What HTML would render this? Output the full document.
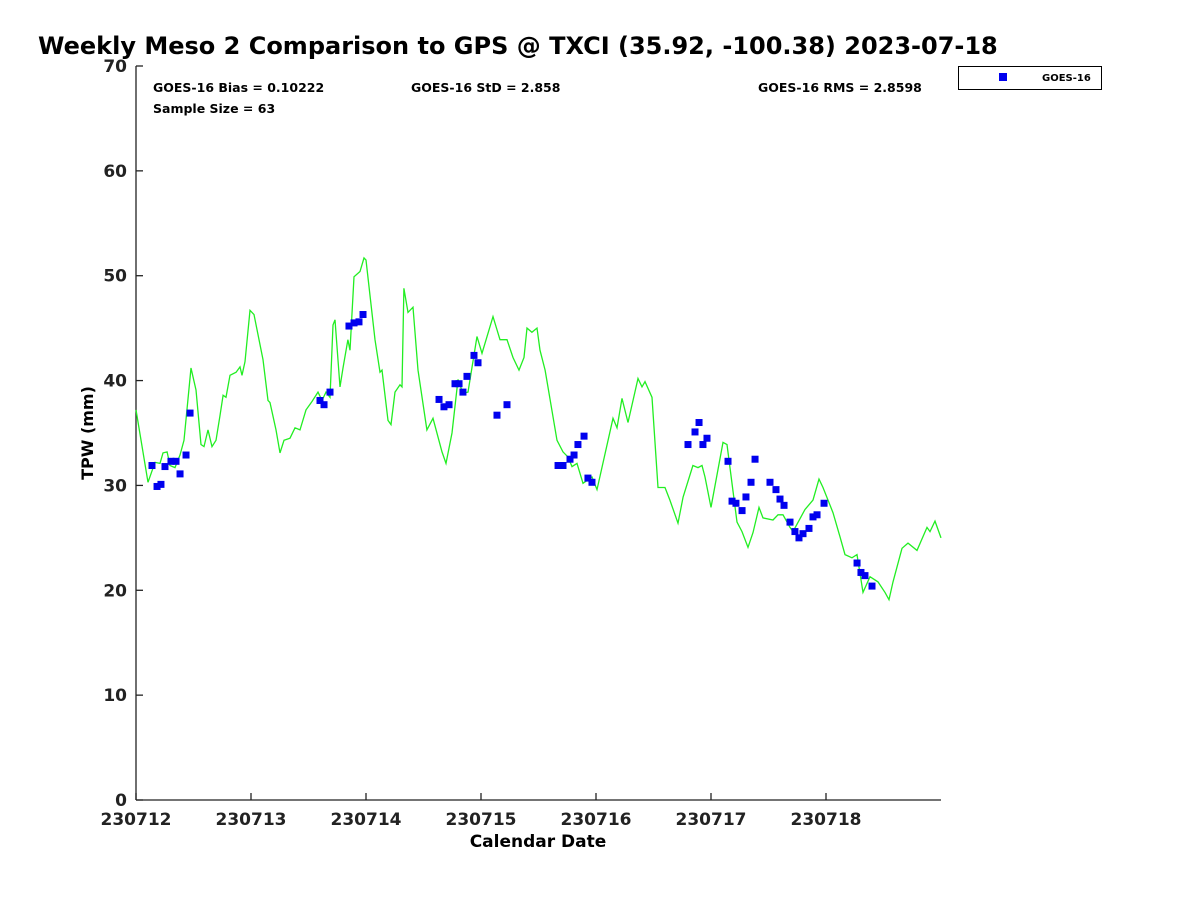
<!DOCTYPE html>
<html><head><meta charset="utf-8"><style>
body{margin:0;background:#fff;}
svg{display:block;font-family:"DejaVu Sans","Liberation Sans",sans-serif;}
</style></head><body>
<svg id="chart" width="1200" height="900" viewBox="0 0 1200 900">
<text x="38" y="54" font-size="24" font-weight="bold">Weekly Meso 2 Comparison to GPS @ TXCI (35.92, -100.38) 2023-07-18</text>
<g font-size="12.5" font-weight="bold">
<text x="153" y="92">GOES-16 Bias = 0.10222</text>
<text x="411" y="92">GOES-16 StD = 2.858</text>
<text x="758" y="92">GOES-16 RMS = 2.8598</text>
<text x="153" y="113">Sample Size = 63</text>
</g>
<g>
<rect x="958.5" y="66.5" width="143" height="23" fill="#fff" stroke="#000" stroke-width="1"/>
<rect x="999" y="73" width="8" height="8" fill="#0000ee"/>
<text x="1042" y="81" font-size="10" font-weight="bold">GOES-16</text>
</g>
<g id="axes"></g>
<g id="marks"></g>
<text x="538" y="847" font-size="17" font-weight="bold" text-anchor="middle">Calendar Date</text>
<text transform="translate(93,433) rotate(-90)" font-size="16" font-weight="bold" text-anchor="middle">TPW (mm)</text>
</svg>
<script>
const xTickLabels=["230712","230713","230714","230715","230716","230717","230718"];
const yTicks=[0,10,20,30,40,50,60,70];
const gpsDays=[0,0.104,0.165,0.209,0.235,0.27,0.296,0.339,0.383,0.417,0.478,0.522,0.565,0.591,0.626,0.661,0.696,0.73,0.757,0.783,0.817,0.87,0.904,0.922,0.948,0.991,1.026,1.104,1.148,1.165,1.217,1.252,1.287,1.339,1.383,1.426,1.478,1.53,1.583,1.617,1.652,1.687,1.713,1.73,1.774,1.8,1.843,1.861,1.896,1.948,1.983,2,2.078,2.122,2.139,2.191,2.217,2.252,2.296,2.313,2.33,2.365,2.409,2.452,2.53,2.583,2.661,2.696,2.748,2.8,2.843,2.887,2.965,3.009,3.104,3.165,3.226,3.278,3.33,3.374,3.4,3.443,3.487,3.513,3.557,3.661,3.713,3.757,3.791,3.835,3.887,3.965,4.009,4.148,4.183,4.226,4.278,4.365,4.4,4.426,4.487,4.539,4.6,4.643,4.713,4.757,4.843,4.887,4.922,4.948,5,5.104,5.139,5.226,5.27,5.322,5.365,5.417,5.452,5.539,5.583,5.626,5.687,5.713,5.817,5.887,5.939,5.974,6.061,6.122,6.165,6.226,6.27,6.322,6.383,6.452,6.513,6.548,6.583,6.661,6.713,6.791,6.878,6.904,6.948,7];
const gpsTpw=[37.2,30.3,32.2,32.1,33.1,33.2,31.9,31.7,32.9,34.3,41.2,39.1,33.9,33.7,35.3,33.7,34.3,36.6,38.6,38.4,40.5,40.8,41.3,40.5,41.8,46.7,46.3,42,38.1,37.9,35.3,33.1,34.3,34.5,35.5,35.3,37.2,38,38.9,38.1,38.9,38.4,45.3,45.8,39.4,41.2,43.9,42.9,49.9,50.4,51.7,51.5,43.9,40.8,41,36.2,35.8,38.9,39.6,39.4,48.8,46.5,47,41,35.3,36.4,33.2,32.1,35,40.1,38.8,38.9,44.2,42.6,46.1,43.9,43.9,42.2,41,42.2,45,44.6,45,42.9,41,34.3,33.2,32.7,31.8,32.1,30.2,30.8,29.6,36.4,35.5,38.3,36,40.2,39.4,39.9,38.4,29.8,29.8,28.6,26.4,28.9,31.9,31.7,31.9,30.8,27.9,34.1,33.9,26.5,25.6,24.1,25.5,27.9,26.9,26.7,27.2,27.2,26,25.6,27.7,28.6,30.6,29.8,27.4,25.1,23.4,23.1,23.4,19.8,21.3,20.8,19.8,19.1,20.8,24,24.5,23.8,26,25.6,26.6,25];
const goesDays=[0.139,0.183,0.217,0.252,0.304,0.348,0.383,0.435,0.47,1.6,1.635,1.687,1.852,1.896,1.939,1.974,2.635,2.678,2.722,2.774,2.809,2.843,2.878,2.939,2.974,3.139,3.226,3.67,3.713,3.774,3.809,3.843,3.896,3.93,3.965,4.8,4.861,4.896,4.93,4.965,5.148,5.183,5.217,5.27,5.304,5.348,5.383,5.513,5.565,5.6,5.635,5.687,5.73,5.765,5.8,5.852,5.887,5.922,5.983,6.27,6.304,6.339,6.4];
const goesTpw=[31.9,29.9,30.1,31.8,32.3,32.3,31.1,32.9,36.9,38.1,37.7,38.9,45.2,45.5,45.6,46.3,38.2,37.5,37.7,39.7,39.7,38.9,40.4,42.4,41.7,36.7,37.7,31.9,31.9,32.5,32.9,33.9,34.7,30.7,30.3,33.9,35.1,36,33.9,34.5,32.3,28.5,28.3,27.6,28.9,30.3,32.5,30.3,29.6,28.7,28.1,26.5,25.6,25,25.4,25.9,27,27.2,28.3,22.6,21.7,21.4,20.4];

const NS="http://www.w3.org/2000/svg";
const X0=136,X1=941,Y0=800,Y1=66;
const xs=d=>X0+d*(X1-X0)/7;
const ys=v=>Y0-v*(Y0-Y1)/70;
const axes=document.getElementById('axes'), marks=document.getElementById('marks');
function mk(tag,attrs,parent){const e=document.createElementNS(NS,tag);for(const k in attrs)e.setAttribute(k,attrs[k]);parent.appendChild(e);return e;}
const yAxis=mk('line',{x1:X0,y1:Y1,x2:X0,y2:Y0,stroke:'#222','stroke-width':1.3},axes);


const xAxis=mk('line',{x1:X0,y1:Y0,x2:X1,y2:Y0,stroke:'#222','stroke-width':1.3},axes);


yTicks.forEach(v=>{
  const t=mk('line',{x1:X0,y1:ys(v),x2:X0+7,y2:ys(v),stroke:'#222','stroke-width':1.3},axes);
  
  
  const l=mk('text',{x:X0-9,y:ys(v)+6,'font-size':17,'font-weight':'bold','text-anchor':'end',fill:'#222'},axes);
  
  
  l.textContent=v;
});
xTickLabels.forEach((lab,i)=>{
  const t=mk('line',{x1:xs(i),y1:Y0,x2:xs(i),y2:Y0-7,stroke:'#222','stroke-width':1.3},axes);
  
  
  const l=mk('text',{x:xs(i),y:Y0+25,'font-size':17,'font-weight':'bold','text-anchor':'middle',fill:'#222'},axes);
  
  
  l.textContent=lab;
});
const pts=gpsDays.map((d,i)=>xs(d).toFixed(1)+','+ys(gpsTpw[i]).toFixed(1)).join(' ');
const line=mk('polyline',{points:pts,fill:'none',stroke:'#22ee22','stroke-width':1.3},marks);


goesDays.forEach((d,i)=>{
  const r=mk('rect',{x:xs(d)-3.5,y:ys(goesTpw[i])-3.5,width:7,height:7,fill:'#0000ee'},marks);
  
  
});
</script>
</body></html>
